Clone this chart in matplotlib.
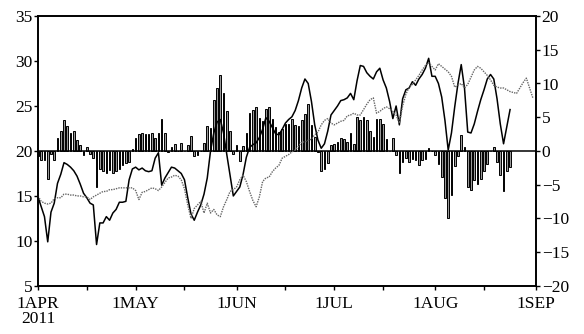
import numpy as np
import pandas as pd
import matplotlib
matplotlib.use('Agg')
import matplotlib.pyplot as plt

plt.rcParams['font.family'] = ['Liberation Serif', 'DejaVu Serif']

# daily bars (right axis), from 1 Apr 2011
bar_vals = [-0.8, -1.3, -1.3, -4.2, -0.4, -1.3, 1.9, 2.9, 4.6, 3.7,
            2.7, 2.9, 1.6, 0.9, -0.6, 0.6, -0.4, -1.0, -5.3, -2.6,
            -2.9, -3.3, -2.8, -3.2, -2.9, -2.6, -2.1, -1.8, -1.7, 0.3,
            1.9, 2.5, 2.6, 2.5, 2.5, 2.7, 1.9, 2.6, 4.8, 2.7,
            -0.1, 0.6, 1.1, 0.0, 1.2, 0.0, 0.9, 2.2, -0.8, -0.6,
            0.0, 1.2, 3.7, 3.4, 7.6, 9.4, 11.2, 8.6, 5.9, 3.0,
            -0.4, 0.9, -1.5, 0.7, 2.6, 5.6, 6.0, 6.5, 4.9, 4.5,
            6.2, 6.5, 4.7, 3.5, 2.8, 3.3, 4.0, 4.0, 4.8, 3.8,
            3.7, 4.6, 5.5, 7.0, 3.8, 2.0, -0.2, -2.9, -2.7, -1.8,
            0.9, 1.1, 1.3, 1.9, 1.8, 1.3, 2.6, 1.0, 5.1, 4.6,
            5.1, 4.6, 2.9, 2.1, 4.8, 4.8, 4.0, 1.8, 0.0, 1.9,
            -0.6, -3.3, -1.6, -1.0, -1.6, -1.2, -1.4, -2.1, -1.4, -1.2,
            0.4, 0.0, -0.6, -2.0, -3.8, -7.0, -9.9, -6.6, -2.3, -0.8,
            2.3, 0.6, -5.3, -5.8, -4.3, -4.9, -4.1, -3.0, -1.9, 0.0,
            0.6, -1.7, -3.6, -6.0, -3.0, -2.4]

# solid line (left axis)
solid_vals = [14.9, 13.8, 12.7, 9.9, 13.2, 14.2, 16.4, 17.4, 18.7, 18.5,
              18.2, 17.8, 17.2, 16.3, 15.3, 14.8, 14.2, 14.0, 9.6, 12.0,
              12.0, 12.7, 12.3, 13.1, 13.5, 14.3, 14.3, 14.4, 16.8, 18.0,
              18.2, 17.9, 18.1, 17.8, 17.7, 17.8, 19.2, 19.8, 16.2, 17.0,
              17.6, 18.2, 18.1, 17.8, 17.5, 16.8, 14.8, 13.0, 12.3, 13.2,
              14.0, 15.2, 17.0, 20.0, 22.0, 23.2, 23.5, 22.0, 19.6, 17.3,
              15.0, 15.5, 16.0, 17.4, 19.3, 20.4, 20.7, 20.9, 21.5, 22.4,
              23.7, 23.3, 22.6, 21.9, 21.8, 22.4, 23.1, 23.5, 23.8, 24.5,
              25.6, 27.0, 28.0, 27.5, 25.5, 22.9, 21.2, 20.3, 20.8, 22.2,
              24.0, 24.5, 25.0, 25.6, 25.7, 25.9, 26.4, 25.7, 27.8, 29.5,
              29.4, 28.7, 28.3, 28.0, 28.8, 29.2, 27.9, 27.0, 25.5, 23.6,
              25.0, 22.9, 25.8, 26.8, 27.0, 27.7, 27.3, 28.0, 28.5, 29.2,
              30.3, 28.3, 28.3, 27.5, 26.0, 23.4, 20.1, 22.0, 24.9, 27.5,
              29.6, 27.0, 22.1, 22.0, 23.0, 24.4, 25.7, 26.8, 28.0, 28.5,
              28.0, 25.8, 23.0, 20.8, 22.7, 24.6]

# dotted line (left axis)
dotted_vals = [15.0, 14.4, 14.2, 14.1, 14.2, 14.7, 14.8, 14.8, 15.2, 15.2,
               15.1, 15.1, 15.0, 15.0, 14.9, 14.9, 14.6, 14.9, 15.1, 15.3,
               15.5, 15.5, 15.7, 15.7, 15.8, 15.9, 15.9, 15.9, 15.9, 15.9,
               15.6, 14.6, 15.4, 15.5, 15.7, 15.9, 15.8, 15.6, 16.0, 16.5,
               17.0, 17.1, 17.3, 17.2, 16.8, 15.8, 14.0, 12.5, 13.6, 14.0,
               14.4, 13.1, 14.2, 13.1, 13.5, 12.9, 12.7, 13.8, 14.6, 15.5,
               15.7, 16.0, 16.8, 17.3, 16.6, 15.5, 14.5, 13.8, 14.9, 16.6,
               17.0, 17.1, 17.7, 18.1, 18.4, 19.2, 19.4, 19.6, 19.9, 20.1,
               20.5, 21.0, 21.0, 21.2, 21.3, 21.8, 22.1, 22.9, 23.4, 23.6,
               23.1, 22.9, 23.1, 23.3, 23.4, 23.9, 24.0, 24.2, 24.0, 24.0,
               24.6, 25.2, 25.7, 25.9, 24.2, 24.4, 24.7, 24.9, 24.7, 24.4,
               24.0, 23.1, 25.0, 26.3, 27.1, 27.4, 27.9, 28.4, 29.0, 29.5,
               29.8, 29.4, 29.0, 29.7, 29.4, 29.1, 28.8, 28.3, 27.1, 27.3,
               27.5, 27.0, 27.4, 28.2, 29.0, 29.4, 29.2, 28.8, 28.4, 27.9,
               27.3, 27.1, 27.0, 27.0, 26.8, 26.6, 26.5, 26.4, 27.0, 27.6,
               28.1, 27.0, 25.9]

month_ticks = ['2011-04-01', '2011-05-01', '2011-06-01', '2011-07-01', '2011-08-01', '2011-09-01']
month_labels = ['1APR\n2011', '1MAY', '1JUN', '1JUL', '1AUG', '1SEP']
mid_ticks = ['2011-04-16', '2011-05-16', '2011-06-16', '2011-07-16', '2011-08-16']

bar_dates = pd.date_range('2011-04-01', periods=len(bar_vals), freq='D')
solid_dates = pd.date_range('2011-04-01', periods=len(solid_vals), freq='D')
dotted_dates = pd.date_range('2011-04-01', periods=len(dotted_vals), freq='D')

fig = plt.figure(figsize=(5.84, 3.34), dpi=100)
ax = fig.add_axes([0.065, 0.144, 0.853, 0.808])
ax2 = ax.twinx()

ax2.bar(bar_dates, bar_vals, width=0.5, color='0.6', edgecolor='k', linewidth=0.7)
ax2.axhline(0, color='k', lw=1.1)
ax2.set_ylim(-20, 20)
ax2.set_yticks(np.arange(-20, 21, 5))

ax.plot(solid_dates, solid_vals, color='k', lw=1.1)
ax.plot(dotted_dates, dotted_vals, color='0.4', lw=1.0, ls=(0, (1, 0.8)))
ax.set_ylim(5, 35)
ax.set_yticks(np.arange(5, 36, 5))
ax.set_zorder(ax2.get_zorder() + 1)
ax.patch.set_visible(False)

ax.set_xlim(pd.Timestamp('2011-04-01'), pd.Timestamp('2011-09-01'))
ax.set_xticks(pd.to_datetime(month_ticks))
ax.set_xticklabels(month_labels)
ax.set_xticks(pd.to_datetime(mid_ticks), minor=True)

for a in (ax, ax2):
    a.tick_params(axis='both', which='both', direction='out', length=3, width=1,
                  labelsize=12.5, pad=1)
    for s in a.spines.values():
        s.set_linewidth(1.2)
ax.tick_params(axis='x', pad=4)
for lab in ax.get_xticklabels():
    lab.set_multialignment('center')
    lab.set_linespacing(0.95)
for lab in ax.get_yticklabels():
    lab.set_verticalalignment('center_baseline')

plt.savefig('out.png', dpi=100)
